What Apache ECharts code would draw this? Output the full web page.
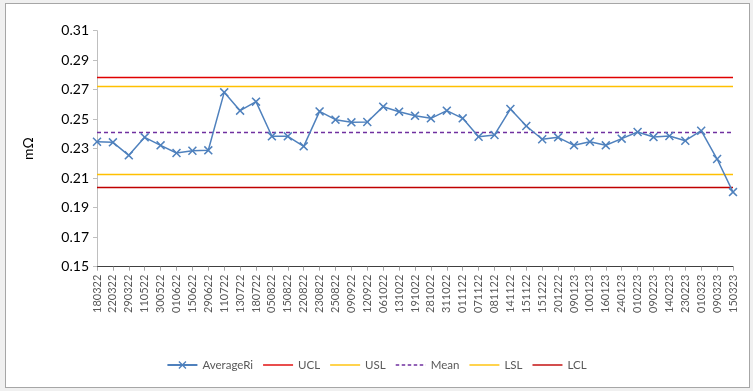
<!DOCTYPE html>
<html>
<head>
<meta charset="utf-8">
<script src="https://cdn.jsdelivr.net/npm/echarts@6/dist/echarts.min.js"></script>
<style>
  html, body { margin: 0; padding: 0; background: #f0f0f0; }
  #frame { position: absolute; left: 5px; top: 3px; width: 743px; height: 383px; background: #ffffff; border: 1px solid #a6a6a6; }
  #chart { position: absolute; left: 0; top: 0; width: 753px; height: 391px; }
</style>
</head>
<body>
<div id="frame"></div>
<div id="chart"></div>
<script>
const categories = ["180322","220322","290322","110522","300522","010622","150622","290622","110722","130722","180722","050822","150822","220822","230822","250822","090922","120922","061022","131022","191022","281022","311022","011122","071122","081122","141122","151122","151222","201222","090123","100123","160123","240123","010223","090223","140223","230223","010323","090323","150323"];
const averageRi = [0.2347,0.2343,0.2255,0.2377,0.2323,0.2271,0.2286,0.2289,0.2682,0.2558,0.2619,0.2384,0.2384,0.2316,0.2553,0.2497,0.2479,0.2481,0.2585,0.2551,0.2523,0.2506,0.2558,0.2506,0.2381,0.2393,0.2569,0.2454,0.2364,0.2377,0.2323,0.2347,0.2323,0.2368,0.2413,0.2379,0.2386,0.2354,0.2422,0.2230,0.2006];
const UCL = 0.2784;
const USL = 0.2725;
const MEAN = 0.2413;
const LSL = 0.2126;
const LCL = 0.2038;
const yTicks = { min: 0.15, max: 0.31, step: 0.02 };

const FONT = 'Lato';
const xMark = 'path://M0,1.2 L1.2,0 L5,3.8 L8.8,0 L10,1.2 L6.2,5 L10,8.8 L8.8,10 L5,6.2 L1.2,10 L0,8.8 L3.8,5 Z';
const solidIcon = 'path://M0,0 L30,0 L30,1.4 L0,1.4 Z';
const dashIcon = 'path://M0,0 h3.5 v1.4 h-3.5 Z M6,0 h3.5 v1.4 h-3.5 Z M12,0 h3.5 v1.4 h-3.5 Z M18,0 h3.5 v1.4 h-3.5 Z M24,0 h3.5 v1.4 h-3.5 Z M29.9,0 h0.1 v1.4 h-0.1 Z';

function limitSeries(name, value, color, type) {
  return {
    name: name,
    type: 'line',
    data: [],
    symbol: 'none',
    lineStyle: { color: color, width: 1.3, type: type || 'solid' },
    itemStyle: { color: color },
    markLine: {
      silent: true,
      symbol: 'none',
      precision: 6,
      label: { show: false },
      lineStyle: { color: color, width: 1.3, type: type || 'solid' },
      data: [{ yAxis: value }]
    }
  };
}

const chart = echarts.init(document.getElementById('chart'), null, { renderer: 'canvas' });
chart.setOption({
  animation: false,
  backgroundColor: 'transparent',
  textStyle: { fontFamily: FONT },
  grid: { left: 97, right: 20, top: 30.7, bottom: 124.3, containLabel: false },
  legend: {
    bottom: 15,
    left: 'center',
    itemWidth: 30,
    itemHeight: 10,
    itemGap: 10,
    textStyle: { color: '#595959', fontSize: 11.5, fontFamily: FONT },
    data: [
      { name: 'AverageRi' },
      { name: 'UCL', icon: solidIcon },
      { name: 'USL', icon: solidIcon },
      { name: 'Mean', icon: dashIcon },
      { name: 'LSL', icon: solidIcon },
      { name: 'LCL', icon: solidIcon }
    ]
  },
  xAxis: {
    type: 'category',
    data: categories,
    boundaryGap: false,
    axisLine: { lineStyle: { color: '#404040', width: 1 } },
    axisTick: { show: true, length: 4, alignWithLabel: true, lineStyle: { color: '#a6a6a6' } },
    axisLabel: { rotate: 90, interval: 0, color: '#595959', fontSize: 11, fontFamily: FONT, margin: 8 },
    splitLine: { show: false }
  },
  yAxis: {
    type: 'value',
    min: yTicks.min,
    max: yTicks.max,
    interval: yTicks.step,
    name: 'mΩ',
    nameLocation: 'middle',
    nameGap: 62,
    nameTextStyle: { color: '#000000', fontSize: 14, fontFamily: FONT },
    axisLine: { show: true, lineStyle: { color: '#bfbfbf' } },
    axisTick: { show: true, length: 4, lineStyle: { color: '#bfbfbf' } },
    axisLabel: { color: '#000000', fontSize: 14, fontFamily: FONT, margin: 8, formatter: v => v.toFixed(2) },
    splitLine: { show: false }
  },
  series: [
    {
      name: 'AverageRi',
      type: 'line',
      data: averageRi,
      symbol: xMark,
      symbolSize: 9,
      showAllSymbol: true,
      lineStyle: { color: '#4f81bd', width: 1.5 },
      itemStyle: { color: '#4f81bd' },
      z: 5
    },
    limitSeries('UCL', UCL, '#e00000'),
    limitSeries('USL', USL, '#ffc000'),
    limitSeries('Mean', MEAN, '#7030a0', [4, 3]),
    limitSeries('LSL', LSL, '#ffc000'),
    limitSeries('LCL', LCL, '#c00000')
  ]
});
</script>
</body>
</html>
